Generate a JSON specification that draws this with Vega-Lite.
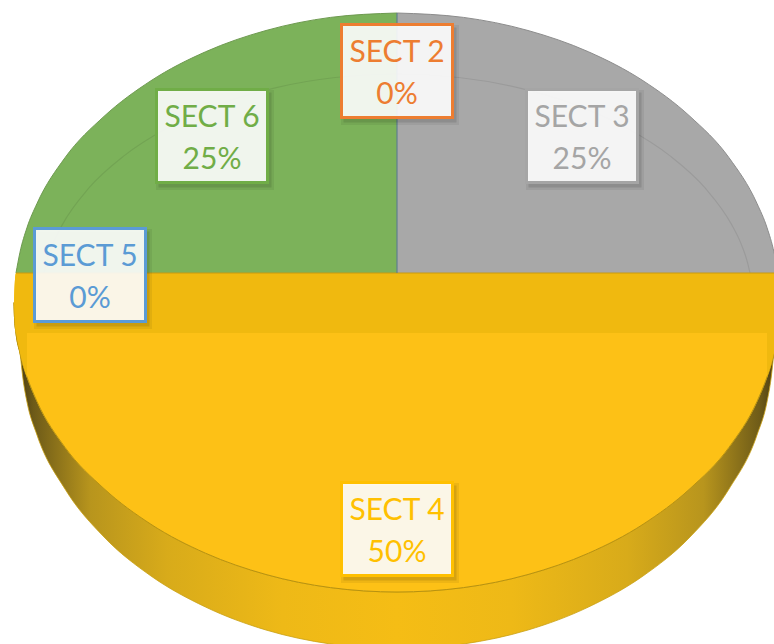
{
"$schema":"https://vega.github.io/schema/vega-lite/v6.json",
"width":774,"height":644,"padding":0,"autosize":"none",
"background":"white",
"config":{"view":{"stroke":null}},
"datasets":{
"outline":[
{"part":"green","x":-381,"y":0,"y2":0},{"part":"green","x":-377,"y":20.8,"y2":0},{"part":"green","x":-370,"y":45.4,"y2":0},{"part":"green","x":-360,"y":69.5,"y2":0},{"part":"green","x":-332,"y":115.3,"y2":0},{"part":"green","x":-293,"y":156.6,"y2":0},{"part":"green","x":-246,"y":192.3,"y2":0},{"part":"green","x":-191.5,"y":221.2,"y2":0},{"part":"green","x":-131,"y":242.5,"y2":0},{"part":"green","x":-66.5,"y":255.6,"y2":0},{"part":"green","x":0,"y":260,"y2":0},
{"part":"gray","x":0,"y":260,"y2":0},{"part":"gray","x":66.5,"y":255.6,"y2":0},{"part":"gray","x":131,"y":242.5,"y2":0},{"part":"gray","x":191.5,"y":221.2,"y2":0},{"part":"gray","x":246,"y":192.3,"y2":0},{"part":"gray","x":293,"y":156.6,"y2":0},{"part":"gray","x":332,"y":115.3,"y2":0},{"part":"gray","x":360,"y":69.5,"y2":0},{"part":"gray","x":370,"y":45.4,"y2":0},{"part":"gray","x":377,"y":20.8,"y2":0},{"part":"gray","x":381,"y":0,"y2":0},
{"part":"yellow","x":-383,"y":-29.5,"y2":-29.5,"y3":-29.5},{"part":"yellow","x":-382.5,"y":-14.4,"y2":-44.6,"y3":-44.6},{"part":"yellow","x":-381,"y":0,"y2":-60,"y3":-60},{"part":"yellow","x":-377,"y":0,"y2":-80,"y3":-80},{"part":"yellow","x":-374,"y":0,"y2":-92,"y3":-106},{"part":"yellow","x":-370,"y":0,"y2":-104,"y3":-129},{"part":"yellow","x":-360,"y":0,"y2":-128.5,"y3":-162},{"part":"yellow","x":-332,"y":0,"y2":-174.3,"y3":-216},{"part":"yellow","x":-293,"y":0,"y2":-215.6,"y3":-264},{"part":"yellow","x":-246,"y":0,"y2":-251.3,"y3":-303},{"part":"yellow","x":-191.5,"y":0,"y2":-280.2,"y3":-334},{"part":"yellow","x":-131,"y":0,"y2":-301.5,"y3":-357},{"part":"yellow","x":-66.5,"y":0,"y2":-314.6,"y3":-371},{"part":"yellow","x":0,"y":0,"y2":-319,"y3":-376},{"part":"yellow","x":66.5,"y":0,"y2":-314.6,"y3":-371},{"part":"yellow","x":131,"y":0,"y2":-301.5,"y3":-357},{"part":"yellow","x":191.5,"y":0,"y2":-280.2,"y3":-334},{"part":"yellow","x":246,"y":0,"y2":-251.3,"y3":-303},{"part":"yellow","x":293,"y":0,"y2":-215.6,"y3":-264},{"part":"yellow","x":332,"y":0,"y2":-174.3,"y3":-216},{"part":"yellow","x":360,"y":0,"y2":-128.5,"y3":-162},{"part":"yellow","x":370,"y":0,"y2":-104,"y3":-129},{"part":"yellow","x":374,"y":0,"y2":-92,"y3":-106},{"part":"yellow","x":377,"y":0,"y2":-80,"y3":-80},{"part":"yellow","x":381,"y":0,"y2":-60,"y3":-60},{"part":"yellow","x":382.5,"y":-14.4,"y2":-44.6,"y3":-44.6},{"part":"yellow","x":383,"y":-29.5,"y2":-29.5,"y3":-29.5},
{"part":"band","x":-383,"y":-29.5,"y2":-29.5},{"part":"band","x":-382.5,"y":-14.4,"y2":-44.6},{"part":"band","x":-381,"y":0,"y2":-60},{"part":"band","x":381,"y":0,"y2":-60},{"part":"band","x":382.5,"y":-14.4,"y2":-44.6},{"part":"band","x":383,"y":-29.5,"y2":-29.5},
{"part":"sliverL","x":-381,"y":-60,"y2":-60},{"part":"sliverL","x":-377,"y":-60,"y2":-80},{"part":"sliverL","x":-374,"y":-60,"y2":-92},{"part":"sliverL","x":-370,"y":-60,"y2":-104},
{"part":"sliverR","x":370,"y":-60,"y2":-104},{"part":"sliverR","x":374,"y":-60,"y2":-92},{"part":"sliverR","x":377,"y":-60,"y2":-80},{"part":"sliverR","x":381,"y":-60,"y2":-60},
{"part":"split","x":-381,"y":0},{"part":"split","x":381,"y":0},
{"part":"rim","x":-353,"y":0},{"part":"rim","x":-350.6,"y":10.2},{"part":"rim","x":-343.9,"y":29.6},{"part":"rim","x":-334.5,"y":48.6},{"part":"rim","x":-308.3,"y":84.8},{"part":"rim","x":-272.7,"y":117.4},{"part":"rim","x":-228.8,"y":145.5},{"part":"rim","x":-178,"y":168.4},{"part":"rim","x":-121.8,"y":185.2},{"part":"rim","x":-61.8,"y":195.5},{"part":"rim","x":0,"y":199},{"part":"rim","x":61.8,"y":195.5},{"part":"rim","x":121.8,"y":185.2},{"part":"rim","x":178,"y":168.4},{"part":"rim","x":228.8,"y":145.5},{"part":"rim","x":272.7,"y":117.4},{"part":"rim","x":308.3,"y":84.8},{"part":"rim","x":334.5,"y":48.6},{"part":"rim","x":343.9,"y":29.6},{"part":"rim","x":350.6,"y":10.2},{"part":"rim","x":353,"y":0}
],
"sectors":[
{"sector":"SECT 2","share":0,"cx":0,"cy":202},
{"sector":"SECT 3","share":0.25,"cx":185,"cy":137},
{"sector":"SECT 4","share":0.5,"cx":0,"cy":-256},
{"sector":"SECT 5","share":0,"cx":-307,"cy":-2},
{"sector":"SECT 6","share":0.25,"cx":-185,"cy":137}
]},
"layer":[
{"data":{"name":"outline"},"transform":[{"filter":"datum.part=='yellow'"}],
 "mark":{"type":"area","clip":true,"interpolate":"monotone","stroke":"#C9A012","strokeWidth":0.8,"color":{"x1":0,"x2":1,"y1":0,"y2":0,"gradient":"linear","stops":[{"offset":0,"color":"#3f3210"},{"offset":0.025,"color":"#6d5a18"},{"offset":0.1,"color":"#b8951d"},{"offset":0.2,"color":"#d8ab1a"},{"offset":0.35,"color":"#eeb917"},{"offset":0.5,"color":"#f5bd15"},{"offset":0.65,"color":"#eeb917"},{"offset":0.8,"color":"#d8ab1a"},{"offset":0.9,"color":"#b8951d"},{"offset":0.975,"color":"#6d5a18"},{"offset":1,"color":"#3f3210"}]}},
 "encoding":{"x":{"field":"x","type":"quantitative","axis":null,"scale":{"domain":[-397,377],"nice":false,"zero":false}},"y":{"field":"y2","type":"quantitative","axis":null,"scale":{"domain":[-371,273],"nice":false,"zero":false}},"y2":{"field":"y3"}}},
{"data":{"name":"outline"},"transform":[{"filter":"datum.part=='yellow'"}],
 "mark":{"type":"area","clip":true,"interpolate":"monotone","color":"#FDC116"},
 "encoding":{"x":{"field":"x","type":"quantitative"},"y":{"field":"y","type":"quantitative"},"y2":{"field":"y2"}}},
{"data":{"name":"outline"},"transform":[{"filter":"datum.part=='yellow'"}],
 "mark":{"type":"line","clip":true,"interpolate":"monotone","color":"#B8920F","strokeWidth":1},
 "encoding":{"x":{"field":"x","type":"quantitative"},"y":{"field":"y2","type":"quantitative"}}},
{"data":{"name":"outline"},"transform":[{"filter":"datum.part=='green'"}],
 "mark":{"type":"area","clip":true,"interpolate":"monotone","color":"#7CB25A"},
 "encoding":{"x":{"field":"x","type":"quantitative"},"y":{"field":"y","type":"quantitative"},"y2":{"field":"y2"}}},
{"data":{"name":"outline"},"transform":[{"filter":"datum.part=='green'"}],
 "mark":{"type":"line","clip":true,"interpolate":"monotone","color":"#6E9A50","strokeWidth":1},
 "encoding":{"x":{"field":"x","type":"quantitative"},"y":{"field":"y","type":"quantitative"}}},
{"data":{"name":"outline"},"transform":[{"filter":"datum.part=='gray'"}],
 "mark":{"type":"area","clip":true,"interpolate":"monotone","color":"#A8A8A8"},
 "encoding":{"x":{"field":"x","type":"quantitative"},"y":{"field":"y","type":"quantitative"},"y2":{"field":"y2"}}},
{"data":{"name":"outline"},"transform":[{"filter":"datum.part=='gray'"}],
 "mark":{"type":"line","clip":true,"interpolate":"monotone","color":"#8C8C8C","strokeWidth":1},
 "encoding":{"x":{"field":"x","type":"quantitative"},"y":{"field":"y","type":"quantitative"}}},
{"data":{"name":"outline"},"transform":[{"filter":"datum.part=='rim'"}],
 "mark":{"type":"line","clip":true,"interpolate":"monotone","color":"#000000","opacity":0.08,"strokeWidth":1.2},
 "encoding":{"x":{"field":"x","type":"quantitative"},"y":{"field":"y","type":"quantitative"}}},
{"data":{"name":"outline"},"transform":[{"filter":"datum.part=='band'"}],
 "mark":{"type":"area","clip":true,"interpolate":"monotone","color":"#F0B90F"},
 "encoding":{"x":{"field":"x","type":"quantitative"},"y":{"field":"y","type":"quantitative"},"y2":{"field":"y2"}}},
{"data":{"name":"outline"},"transform":[{"filter":"indexof(datum.part,'sliver')==0"}],
 "mark":{"type":"area","clip":true,"interpolate":"monotone","color":"#F0B90F"},
 "encoding":{"x":{"field":"x","type":"quantitative"},"y":{"field":"y","type":"quantitative"},"y2":{"field":"y2"},"detail":{"field":"part"}}},
{"data":{"name":"outline"},"transform":[{"filter":"datum.part=='split'"}],
 "mark":{"type":"line","clip":true,"color":"#C79A10","strokeWidth":1.2},
 "encoding":{"x":{"field":"x","type":"quantitative"},"y":{"field":"y","type":"quantitative"}}},
{"data":{"values":[{"x":0,"y":260,"y2":0}]},
 "mark":{"type":"rule","color":"#5E7F8E","strokeWidth":1.2},
 "encoding":{"x":{"field":"x","type":"quantitative"},"y":{"field":"y","type":"quantitative"},"y2":{"field":"y2"}}},
{"data":{"name":"sectors"},
 "mark":{"type":"rect","width":118,"height":100,"xOffset":3,"yOffset":4,"fill":"#000000","fillOpacity":0.06},
 "encoding":{"x":{"field":"cx","type":"quantitative"},"y":{"field":"cy","type":"quantitative"}}},
{"data":{"name":"sectors"},
 "mark":{"type":"rect","width":113,"height":95,"xOffset":3,"yOffset":4,"fill":"#000000","fillOpacity":0.1},
 "encoding":{"x":{"field":"cx","type":"quantitative"},"y":{"field":"cy","type":"quantitative"}}},
{"data":{"name":"sectors"},
 "mark":{"type":"rect","width":111,"height":93,"fill":"#FFFFFF","fillOpacity":0.9,"strokeWidth":3},
 "encoding":{"x":{"field":"cx","type":"quantitative"},"y":{"field":"cy","type":"quantitative"},
  "stroke":{"field":"sector","type":"nominal","legend":null,"scale":{"domain":["SECT 2","SECT 3","SECT 4","SECT 5","SECT 6"],"range":["#ED7D31","#A5A5A5","#FFC000","#5B9BD5","#70AD47"]}}}},
{"data":{"name":"sectors"},
 "mark":{"type":"text","font":"Lato","fontSize":30,"dy":-18.5,"align":"center","baseline":"middle"},
 "encoding":{"x":{"field":"cx","type":"quantitative"},"y":{"field":"cy","type":"quantitative"},"text":{"field":"sector","type":"nominal"},
  "color":{"field":"sector","type":"nominal","legend":null,"scale":{"domain":["SECT 2","SECT 3","SECT 4","SECT 5","SECT 6"],"range":["#ED7D31","#A5A5A5","#FFC000","#5B9BD5","#70AD47"]}}}},
{"data":{"name":"sectors"},
 "mark":{"type":"text","font":"Lato","fontSize":30,"dy":23.5,"align":"center","baseline":"middle"},
 "encoding":{"x":{"field":"cx","type":"quantitative"},"y":{"field":"cy","type":"quantitative"},"text":{"field":"share","type":"quantitative","format":".0%"},
  "color":{"field":"sector","type":"nominal","legend":null,"scale":{"domain":["SECT 2","SECT 3","SECT 4","SECT 5","SECT 6"],"range":["#ED7D31","#A5A5A5","#FFC000","#5B9BD5","#70AD47"]}}}}
]
}
